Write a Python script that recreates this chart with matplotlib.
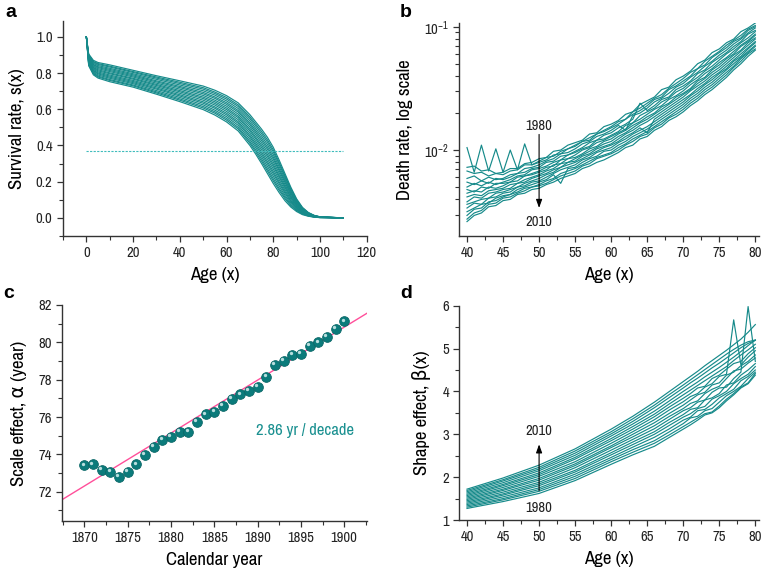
import matplotlib
matplotlib.use("Agg")
import matplotlib.pyplot as plt
import matplotlib.ticker as mticker
import matplotlib.transforms as mtransforms
from matplotlib import font_manager

names = {f.name for f in font_manager.fontManager.ttflist}
narrow = 'Liberation Sans'
for cand in ['Liberation Sans Narrow', 'Archivo Narrow', 'Roboto Condensed']:
    if cand in names:
        narrow = cand
        break
plt.rcParams['font.family'] = [narrow, 'DejaVu Sans']
plt.rcParams['mathtext.fontset'] = 'custom'
plt.rcParams['mathtext.rm'] = narrow
plt.rcParams['mathtext.it'] = narrow + ':italic'

# ---------------- data ----------------
# Panel a: survival curves s(x)
ages_a = [0, 1, 3, 5, 10, 20, 30, 40, 50, 55, 60, 65, 70, 72.5, 75, 77.5, 80, 82.5,
          85, 87.5, 90, 92.5, 95, 97.5, 100, 110]
surv_curves = [
    [1, .905, .870, .858, .845, .815, .785, .757, .728, .705, .675, .635, .570, .530, .490, .445, .390, .320, .245, .170, .105, .058, .030, .014, .006, 0],
    [1, .900, .864, .852, .838, .808, .778, .749, .719, .695, .665, .624, .558, .518, .477, .431, .376, .307, .234, .162, .100, .055, .028, .013, .006, 0],
    [1, .897, .860, .847, .833, .803, .772, .742, .711, .687, .656, .615, .548, .507, .465, .419, .364, .297, .226, .156, .096, .053, .027, .013, .005, 0],
    [1, .892, .854, .841, .826, .796, .765, .734, .702, .678, .646, .604, .536, .494, .452, .405, .350, .284, .215, .148, .091, .050, .026, .012, .005, 0],
    [1, .887, .848, .835, .820, .790, .757, .726, .693, .668, .636, .593, .524, .482, .439, .391, .336, .271, .205, .140, .086, .047, .024, .011, .005, 0],
    [1, .884, .844, .830, .814, .784, .751, .719, .685, .660, .627, .584, .514, .471, .427, .379, .324, .261, .196, .134, .082, .045, .023, .011, .0045, 0],
    [1, .879, .838, .824, .808, .778, .744, .711, .676, .650, .617, .573, .502, .459, .414, .365, .310, .248, .185, .126, .077, .042, .022, .010, .004, 0],
    [1, .874, .832, .818, .801, .771, .737, .703, .667, .641, .607, .562, .490, .446, .401, .351, .296, .235, .175, .118, .072, .039, .020, .009, .004, 0],
    [1, .871, .828, .812, .796, .766, .731, .696, .659, .632, .598, .553, .480, .436, .389, .339, .284, .225, .166, .112, .068, .037, .019, .009, .0036, 0],
    [1, .866, .822, .806, .789, .759, .724, .688, .650, .623, .588, .542, .468, .423, .376, .325, .270, .212, .155, .104, .063, .034, .017, .008, .0033, 0],
    [1, .861, .816, .800, .783, .753, .717, .680, .641, .613, .578, .531, .456, .411, .363, .311, .256, .199, .145, .096, .058, .031, .016, .007, .003, 0],
    [1, .858, .812, .795, .777, .747, .711, .673, .633, .605, .569, .522, .446, .400, .351, .299, .244, .189, .136, .090, .054, .029, .015, .007, .0027, 0],
    [1, .853, .806, .789, .771, .741, .703, .665, .624, .595, .559, .511, .434, .388, .338, .285, .230, .176, .125, .082, .049, .026, .013, .006, .0024, 0],
    [1, .848, .800, .783, .764, .734, .696, .657, .615, .586, .549, .500, .422, .375, .325, .271, .216, .163, .115, .074, .044, .023, .012, .005, .002, 0],
    [1, .845, .796, .778, .759, .729, .690, .650, .607, .578, .540, .491, .412, .364, .313, .259, .204, .153, .106, .068, .040, .021, .011, .005, .0018, 0],
    [1, .840, .790, .772, .752, .722, .683, .642, .598, .568, .530, .480, .400, .352, .300, .245, .190, .140, .095, .060, .035, .018, .009, .004, .0015, 0],
]
ref_level_a = 0.368          # horizontal reference s = 1/e
ref_span_a = [0, 110]

# Panel b: log10 death rate, ages 40..80 (1980 top -> 2010 bottom)
ages_b = list(range(40, 81))
logm_curves = [
    [-2.14,-2.13,-2.17,-2.16,-2.19,-2.18,-2.15,-2.15,-2.11,-2.10,-2.07,-2.06,-2.01,-2.00,-1.96,-1.94,-1.92,-1.87,-1.86,-1.81,-1.79,-1.76,-1.71,-1.69,-1.63,-1.60,-1.57,-1.51,-1.49,-1.43,-1.40,-1.36,-1.30,-1.27,-1.21,-1.18,-1.13,-1.10,-1.04,-1.01,-0.97],
    [-2.17,-2.19,-2.18,-2.21,-2.19,-2.20,-2.17,-2.16,-2.12,-2.12,-2.09,-2.06,-2.05,-2.01,-1.99,-1.96,-1.93,-1.90,-1.87,-1.84,-1.81,-1.77,-1.75,-1.69,-1.66,-1.62,-1.58,-1.55,-1.50,-1.46,-1.42,-1.37,-1.34,-1.28,-1.24,-1.20,-1.15,-1.11,-1.07,-1.02,-0.99],
    [-1.98,-2.18,-1.96,-2.17,-1.99,-2.18,-2.00,-2.16,-1.95,-2.12,-2.10,-2.08,-2.04,-2.03,-1.99,-1.97,-1.93,-1.92,-1.87,-1.85,-1.82,-1.79,-1.75,-1.71,-1.68,-1.64,-1.59,-1.57,-1.51,-1.48,-1.44,-1.40,-1.34,-1.31,-1.25,-1.21,-1.17,-1.12,-1.09,-1.03,-1.00],
    [-2.23,-2.21,-2.25,-2.22,-2.24,-2.23,-2.20,-2.19,-2.15,-2.14,-2.12,-2.09,-2.07,-2.03,-2.02,-1.99,-1.95,-1.93,-1.89,-1.87,-1.84,-1.80,-1.84,-1.72,-1.70,-1.66,-1.61,-1.58,-1.54,-1.49,-1.46,-1.41,-1.37,-1.32,-1.28,-1.23,-1.19,-1.14,-1.10,-1.05,-1.01],
    [-2.26,-2.28,-2.25,-2.27,-2.23,-2.24,-2.22,-2.19,-2.18,-2.15,-2.14,-2.10,-2.09,-2.05,-2.04,-2.01,-1.98,-1.94,-1.92,-1.88,-1.86,-1.82,-1.79,-1.75,-1.62,-1.68,-1.64,-1.59,-1.57,-1.51,-1.48,-1.44,-1.38,-1.35,-1.29,-1.25,-1.21,-1.16,-1.12,-1.06,-1.03],
    [-2.30,-2.27,-2.29,-2.26,-2.28,-2.26,-2.24,-2.21,-2.20,-2.16,-2.15,-2.13,-2.10,-2.08,-2.04,-2.02,-1.99,-1.97,-1.92,-1.91,-1.88,-1.85,-1.80,-1.78,-1.72,-1.69,-1.66,-1.61,-1.58,-1.53,-1.50,-1.45,-1.41,-1.36,-1.32,-1.27,-1.22,-1.18,-1.13,-1.09,-1.04],
    [-2.32,-2.34,-2.30,-2.31,-2.27,-2.27,-2.26,-2.22,-2.21,-2.19,-2.17,-2.14,-2.13,-2.08,-2.07,-2.04,-2.00,-1.98,-1.94,-1.92,-1.89,-1.86,-1.83,-1.78,-1.75,-1.71,-1.67,-1.64,-1.59,-1.56,-1.52,-1.47,-1.43,-1.38,-1.34,-1.29,-1.25,-1.20,-1.15,-1.11,-1.06],
    [-2.35,-2.33,-2.34,-2.30,-2.31,-2.29,-2.26,-2.25,-2.21,-2.20,-2.18,-2.16,-2.12,-2.11,-2.07,-2.06,-2.03,-1.99,-1.97,-1.93,-1.91,-1.87,-1.84,-1.80,-1.77,-1.73,-1.70,-1.65,-1.62,-1.57,-1.54,-1.50,-1.44,-1.41,-1.35,-1.31,-1.26,-1.22,-1.16,-1.12,-1.07],
    [-2.38,-2.36,-2.37,-2.33,-2.32,-2.31,-2.28,-2.27,-2.24,-2.22,-2.20,-2.17,-2.15,-2.11,-2.10,-2.07,-2.04,-2.01,-1.98,-1.95,-1.93,-1.89,-1.86,-1.82,-1.78,-1.75,-1.71,-1.67,-1.63,-1.59,-1.55,-1.51,-1.46,-1.42,-1.37,-1.33,-1.28,-1.23,-1.19,-1.13,-1.09],
    [-2.42,-2.38,-2.39,-2.35,-2.34,-2.32,-2.31,-2.27,-2.26,-2.23,-2.21,-2.19,-2.16,-2.14,-2.10,-2.09,-2.05,-2.03,-1.99,-1.97,-1.95,-1.91,-1.87,-1.84,-1.80,-1.77,-1.73,-1.69,-1.65,-1.61,-1.57,-1.52,-1.48,-1.44,-1.39,-1.35,-1.30,-1.25,-1.20,-1.15,-1.10],
    [-2.44,-2.42,-2.40,-2.39,-2.35,-2.34,-2.32,-2.30,-2.27,-2.25,-2.23,-2.20,-2.18,-2.14,-2.12,-2.10,-2.07,-2.04,-2.01,-1.98,-1.96,-1.93,-1.89,-1.86,-1.82,-1.86,-1.75,-1.71,-1.67,-1.63,-1.59,-1.55,-1.50,-1.46,-1.41,-1.37,-1.32,-1.27,-1.22,-1.17,-1.12],
    [-2.47,-2.43,-2.44,-2.39,-2.38,-2.35,-2.34,-2.30,-2.29,-2.26,-2.25,-2.22,-2.19,-2.16,-2.14,-2.12,-2.08,-2.06,-2.02,-2.00,-1.98,-1.94,-1.91,-1.87,-1.84,-1.81,-1.77,-1.73,-1.69,-1.65,-1.61,-1.56,-1.52,-1.47,-1.43,-1.38,-1.34,-1.28,-1.24,-1.18,-1.13],
    [-2.50,-2.47,-2.44,-2.43,-2.39,-2.37,-2.36,-2.32,-2.30,-2.28,-2.26,-2.24,-2.20,-2.27,-2.15,-2.14,-2.10,-2.07,-2.05,-2.01,-2.00,-1.96,-1.93,-1.89,-1.86,-1.83,-1.79,-1.75,-1.71,-1.67,-1.63,-1.58,-1.54,-1.49,-1.45,-1.40,-1.35,-1.30,-1.25,-1.20,-1.15],
    [-2.53,-2.48,-2.47,-2.42,-2.41,-2.38,-2.36,-2.34,-2.31,-2.30,-2.28,-2.25,-2.23,-2.19,-2.17,-2.15,-2.12,-2.09,-2.06,-2.04,-2.02,-1.98,-1.95,-1.91,-1.88,-1.85,-1.81,-1.77,-1.73,-1.69,-1.65,-1.60,-1.56,-1.51,-1.47,-1.42,-1.37,-1.32,-1.26,-1.21,-1.16],
    [-2.56,-2.51,-2.49,-2.44,-2.43,-2.39,-2.38,-2.35,-2.33,-2.30,-2.29,-2.27,-2.24,-2.21,-2.19,-2.17,-2.13,-2.11,-2.07,-2.05,-2.03,-2.00,-1.96,-1.93,-1.89,-1.87,-1.82,-1.79,-1.74,-1.71,-1.67,-1.62,-1.58,-1.53,-1.49,-1.44,-1.39,-1.33,-1.28,-1.22,-1.18],
    [-2.58,-2.53,-2.51,-2.46,-2.45,-2.41,-2.40,-2.36,-2.35,-2.32,-2.31,-2.28,-2.26,-2.23,-2.21,-2.19,-2.15,-2.13,-2.10,-2.08,-2.05,-2.02,-1.98,-1.96,-1.91,-1.89,-1.84,-1.81,-1.76,-1.73,-1.69,-1.64,-1.60,-1.55,-1.51,-1.46,-1.41,-1.35,-1.30,-1.24,-1.19],
]

# Panel c: scale effect alpha by calendar year
years_c = list(range(1870, 1901))
alpha_c = [73.41, 73.46, 73.16, 73.04, 72.80, 73.07, 73.46, 73.96, 74.38, 74.77,
           74.93, 75.21, 75.21, 75.75, 76.14, 76.27, 76.61, 76.95, 77.21, 77.41,
           77.63, 78.13, 78.79, 79.00, 79.32, 79.38, 79.82, 80.00, 80.30, 80.70, 81.12]
fit_years = [1867.46, 1902.6]
fit_alpha = [71.58, 81.55]
slope_label = "2.86 yr / decade"

# Panel d: shape effect beta(x)
ages_d = [40, 45, 50, 55, 60, 63, 66, 68, 70, 71, 72, 73, 74, 75, 76, 77, 78, 79, 80]
beta_curves = [
    [1.72, 1.98, 2.28, 2.66, 3.12, 3.42, 3.75, 3.99, 4.23, 4.35, 4.47, 4.60, 4.72, 4.84, 4.96, 5.09, 5.22, 5.38, 5.56],
    [1.69, 1.94, 2.23, 2.61, 3.06, 3.36, 3.68, 3.92, 4.15, 4.27, 4.39, 4.51, 4.63, 4.75, 4.87, 4.98, 5.08, 5.16, 5.20],
    [1.66, 1.91, 2.19, 2.56, 3.01, 3.30, 3.62, 3.85, 4.08, 4.20, 4.31, 4.43, 4.55, 4.66, 4.78, 4.90, 5.02, 5.12, 5.19],
    [1.63, 1.87, 2.15, 2.51, 2.96, 3.24, 3.54, 3.77, 4.00, 4.11, 4.22, 4.34, 4.45, 4.56, 4.68, 4.80, 4.93, 5.07, 5.20],
    [1.60, 1.83, 2.10, 2.46, 2.90, 3.18, 3.47, 3.70, 3.92, 4.03, 4.14, 4.25, 4.36, 4.47, 4.58, 4.72, 4.85, 4.97, 5.10],
    [1.57, 1.80, 2.06, 2.42, 2.85, 3.12, 3.41, 3.63, 3.84, 3.95, 4.08, 4.12, 4.30, 4.38, 4.52, 4.65, 4.70, 4.88, 5.02],
    [1.54, 1.76, 2.02, 2.36, 2.79, 3.06, 3.34, 3.56, 3.76, 3.88, 3.95, 4.10, 4.18, 4.35, 4.40, 5.67, 4.62, 4.80, 4.95],
    [1.51, 1.72, 1.97, 2.31, 2.73, 3.00, 3.27, 3.48, 3.68, 3.80, 3.92, 3.98, 4.15, 4.20, 4.38, 4.45, 4.60, 4.70, 4.85],
    [1.48, 1.69, 1.93, 2.27, 2.69, 2.94, 3.20, 3.41, 3.60, 3.72, 3.78, 3.95, 4.05, 4.12, 4.30, 4.48, 4.52, 4.66, 4.78],
    [1.45, 1.65, 1.88, 2.22, 2.63, 2.88, 3.13, 3.34, 3.55, 3.62, 3.75, 3.80, 3.98, 4.08, 4.10, 4.30, 4.45, 5.98, 4.70],
    [1.42, 1.61, 1.84, 2.16, 2.57, 2.82, 3.06, 3.27, 3.46, 3.58, 3.62, 3.80, 3.85, 3.95, 4.15, 4.20, 4.38, 4.50, 4.65],
    [1.39, 1.58, 1.80, 2.12, 2.52, 2.76, 3.00, 3.20, 3.40, 3.48, 3.60, 3.65, 3.82, 3.90, 4.00, 4.18, 4.30, 4.40, 4.58],
    [1.36, 1.54, 1.75, 2.07, 2.46, 2.70, 2.93, 3.12, 3.33, 3.40, 3.55, 3.58, 3.70, 3.85, 3.95, 4.05, 4.25, 4.35, 4.50],
    [1.33, 1.50, 1.71, 2.02, 2.41, 2.64, 2.85, 3.05, 3.25, 3.38, 3.42, 3.55, 3.60, 3.75, 3.90, 4.00, 4.12, 4.30, 4.45],
    [1.30, 1.47, 1.67, 1.97, 2.36, 2.58, 2.79, 2.98, 3.18, 3.28, 3.38, 3.48, 3.52, 3.66, 3.82, 3.95, 4.10, 4.20, 4.42],
    [1.27, 1.43, 1.62, 1.92, 2.30, 2.52, 2.72, 2.92, 3.12, 3.22, 3.33, 3.45, 3.50, 3.62, 3.78, 3.92, 4.08, 4.18, 4.38],
]

arrow_years = ["1980", "2010"]

# ---------------- styling ----------------
LINE = '#168a8a'
TICKC = '#222222'
FS_TICK = 10.5
FS_LAB = 13.5

fig = plt.figure(figsize=(7.64, 5.71), dpi=100)
W, H = 764, 571

def place(l, r, t, b):
    return fig.add_axes([l / W, 1 - b / H, (r - l) / W, (b - t) / H])

def style(ax):
    for s in ('top', 'right'):
        ax.spines[s].set_visible(False)
    for s in ('left', 'bottom'):
        ax.spines[s].set_color('#333333')
        ax.spines[s].set_linewidth(1.0)
    ax.tick_params(which='major', direction='out', length=4.5, width=0.9,
                   colors='#333333', labelcolor=TICKC, labelsize=FS_TICK, pad=3)
    ax.tick_params(which='minor', direction='out', length=3, width=0.8, colors='#333333')

# ---- panel a ----
axa = place(63, 366.7, 20.5, 236)
for s in surv_curves:
    axa.plot(ages_a, s, color=LINE, lw=0.85)
axa.plot(ref_span_a, [ref_level_a, ref_level_a], color='#40bcbc', lw=0.8, ls=(0, (2, 1.2)))
axa.set_xlim(-10, 120)
axa.set_ylim(-0.1, 1.09)
axa.xaxis.set_major_locator(mticker.MultipleLocator(20))
axa.xaxis.set_minor_locator(mticker.MultipleLocator(10))
axa.yaxis.set_major_locator(mticker.MultipleLocator(0.2))
axa.yaxis.set_minor_locator(mticker.MultipleLocator(0.1))
axa.yaxis.set_major_formatter(mticker.FormatStrFormatter('%.1f'))
style(axa)
axa.set_xlabel('Age (x)', fontsize=FS_LAB, labelpad=5)
axa.set_ylabel('Survival rate, s(x)', fontsize=FS_LAB, labelpad=8)

# ---- panel b ----
axb = place(459.3, 758.7, 23.3, 236)
for lm in logm_curves:
    axb.plot(ages_b, [10 ** v for v in lm], color=LINE, lw=0.85)
axb.set_yscale('log')
axb.set_xlim(38.93, 80.47)
axb.set_ylim(0.00201, 0.1066)
axb.xaxis.set_major_locator(mticker.MultipleLocator(5))
axb.xaxis.set_minor_locator(mticker.MultipleLocator(2.5))
axb.yaxis.set_major_locator(mticker.FixedLocator([0.01, 0.1]))
axb.yaxis.set_major_formatter(mticker.FixedFormatter([r'$\mathregular{10^{-2}}$', r'$\mathregular{10^{-1}}$']))
axb.yaxis.set_minor_locator(mticker.LogLocator(base=10, subs=range(2, 10)))
axb.yaxis.set_minor_formatter(mticker.NullFormatter())
style(axb)
axb.set_xlabel('Age (x)', fontsize=FS_LAB, labelpad=5)
axb.set_ylabel('Death rate, log scale', fontsize=FS_LAB, labelpad=8)
axb.annotate('', xy=(50, 0.00322), xytext=(50, 0.0141),
             arrowprops=dict(arrowstyle='-|>,head_length=0.5,head_width=0.18', color='black', lw=0.8))
axb.text(50, 0.0158, arrow_years[0], ha='center', va='center', fontsize=10.5, color='#222222')
axb.text(50, 0.00262, arrow_years[1], ha='center', va='center', fontsize=10.5, color='#222222')

# ---- panel c ----
axc = place(62.3, 366.7, 305, 521)
axc.plot(fit_years, fit_alpha, color='#ff4f9a', lw=1.0, zorder=2)
axc.plot(years_c, alpha_c, 'o', ms=7, mfc='#0b7b7b', mec='#0a6767', mew=0.6, zorder=3)
hl = mtransforms.offset_copy(axc.transData, fig=fig, x=-1.1, y=1.3, units='points')
axc.plot(years_c, alpha_c, 'o', ms=2.4, mfc='#d8f0f0', mec='none', alpha=0.85,
         transform=hl, zorder=4)
axc.set_xlim(1867.46, 1902.6)
axc.set_ylim(70.43, 82)
axc.xaxis.set_major_locator(mticker.MultipleLocator(5))
axc.xaxis.set_minor_locator(mticker.MultipleLocator(2.5))
axc.yaxis.set_major_locator(mticker.MultipleLocator(2))
axc.yaxis.set_minor_locator(mticker.MultipleLocator(1))
style(axc)
axc.text(1895.5, 75.3, slope_label, color='#1a9090', fontsize=12, ha='center', va='center')
axc.set_xlabel('Calendar year', fontsize=FS_LAB, labelpad=5)
axc.set_ylabel('Scale effect, α (year)', fontsize=FS_LAB, labelpad=8)

# ---- panel d ----
axd = place(459.3, 758.7, 305.7, 520)
for bt in beta_curves:
    axd.plot(ages_d, bt, color=LINE, lw=0.85)
axd.set_xlim(38.93, 80.47)
axd.set_ylim(1, 6)
axd.xaxis.set_major_locator(mticker.MultipleLocator(5))
axd.xaxis.set_minor_locator(mticker.MultipleLocator(2.5))
axd.yaxis.set_major_locator(mticker.MultipleLocator(1))
axd.yaxis.set_minor_locator(mticker.MultipleLocator(0.5))
style(axd)
axd.set_xlabel('Age (x)', fontsize=FS_LAB, labelpad=5)
axd.set_ylabel('Shape effect, β(x)', fontsize=FS_LAB, labelpad=8)
axd.annotate('', xy=(50, 2.83), xytext=(50, 1.62),
             arrowprops=dict(arrowstyle='-|>,head_length=0.5,head_width=0.18', color='black', lw=0.8))
axd.text(50, 3.08, arrow_years[1], ha='center', va='center', fontsize=10.5, color='#222222')
axd.text(50, 1.27, arrow_years[0], ha='center', va='center', fontsize=10.5, color='#222222')

# panel letters
for lab, (px, py) in zip('abcd', [(5, 17), (400, 17), (3, 298), (400, 298)]):
    fig.text(px / W, 1 - py / H, lab, fontsize=14, fontweight='bold',
             family='Liberation Sans', ha='left', va='baseline')

fig.savefig('out.png', dpi=100)
